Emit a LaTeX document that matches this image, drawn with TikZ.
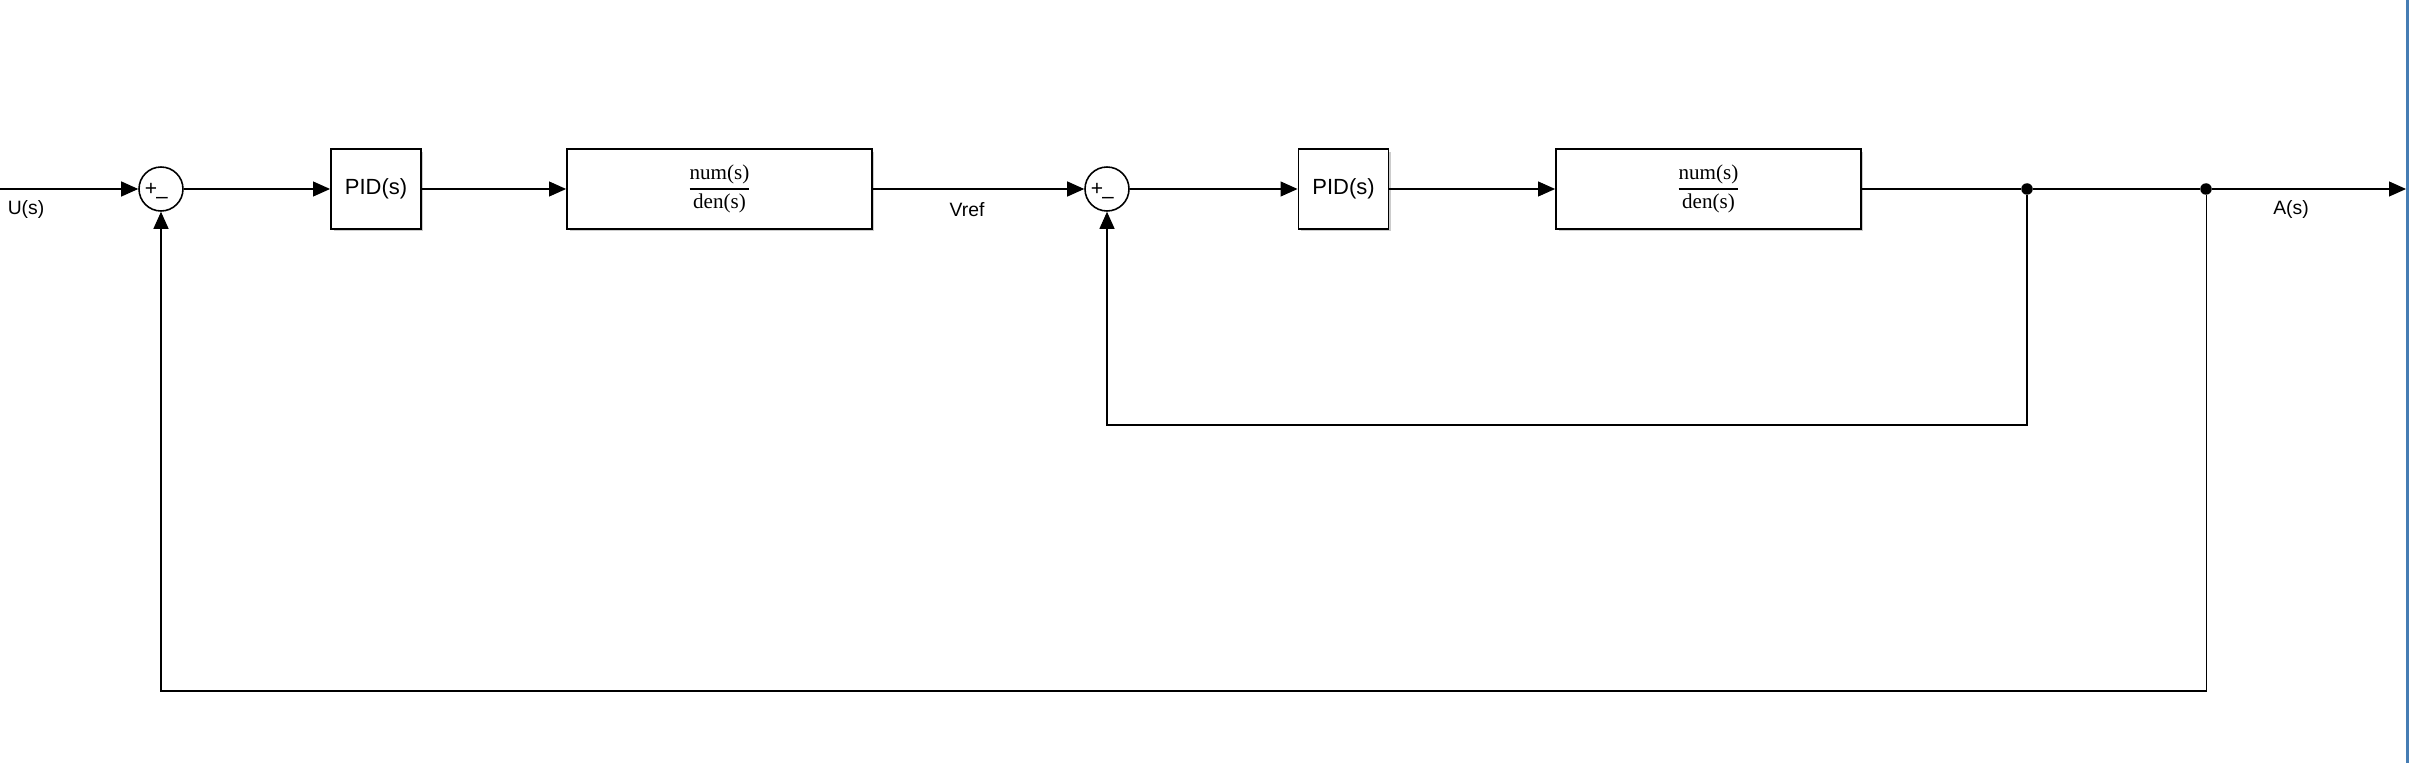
\documentclass[tikz,border=0pt]{standalone}
\usepackage{amsmath}
\usepackage{fontspec}
\setmainfont{Liberation Sans}
\newfontfamily\tffont{Liberation Serif}
\usetikzlibrary{arrows.meta,shadows}
\definecolor{edgeblue}{RGB}{70,125,180}

\tikzset{
    sig/.style={line width=0.6pt, -{Triangle[length=0.34cm,width=0.3cm]}},
    wire/.style={line width=0.6pt},
    block/.style={draw, line width=1.1pt, fill=white, minimum height=1.6cm,
        drop shadow={shadow xshift=0.05cm, shadow yshift=-0.05cm, opacity=0.4}},
    sumnode/.style={circle, draw, line width=0.9pt, fill=white, minimum size=0.88cm, inner sep=0pt},
    junction/.style={circle, fill, inner sep=0pt, minimum size=0.23cm},
    pm/.style={inner sep=0pt, font=\fontsize{12}{14}\selectfont},
    lbl/.style={font=\fontsize{11}{13}\selectfont}
}
\newcommand{\tf}{{\tffont\fontsize{12}{14}\selectfont$\genfrac{}{}{0.8pt}{0}{\mbox{num(s)}}{\mbox{den(s)}}$}}

\begin{document}
\begin{tikzpicture}[x=0.02cm, y=-0.02cm]
    \useasboundingbox (0,0) rectangle (2410,763);
    % Blocks
    \node[sumnode] (sum1) at (161,189) {};
    \node[pm] (sum1p) at ([xshift=-0.2cm]sum1.center) {+};
    \node[pm] (sum1m) at ([xshift=0.02cm,yshift=-0.22cm]sum1.center) {--};
    \node[block, minimum width=1.8cm, font=\fontsize{12.5}{14}\selectfont] (pid1) at (376,189) {PID(s)};
    \node[block, minimum width=6.1cm] (plant1) at (719.5,189) {\tf};
    \node[sumnode] (sum2) at (1107,189) {};
    \node[pm] (sum2p) at ([xshift=-0.2cm]sum2.center) {+};
    \node[pm] (sum2m) at ([xshift=0.02cm,yshift=-0.22cm]sum2.center) {--};
    \node[block, minimum width=1.8cm, font=\fontsize{12.5}{14}\selectfont] (pid2) at (1343.5,189) {PID(s)};
    \node[block, minimum width=6.1cm] (plant2) at (1708.5,189) {\tf};
    \node[junction] (tap1) at (2027,189) {};
    \node[junction] (tap2) at (2206,189) {};

    % Signal names
    \node[lbl] (ulab) at (26,210) {U(s)};
    \node[lbl] (vlab) at (967,210) {Vref};
    \node[lbl] (alab) at (2291,210) {A(s)};

    % Ends and loop levels
    \coordinate (in) at (0,189);
    \coordinate (out) at (2406,189);
    \coordinate (inner) at (0,425);
    \coordinate (outer) at (0,691);

    % Forward path
    \draw[sig] (in) -- (sum1);
    \draw[sig] (sum1) -- (pid1);
    \draw[sig] (pid1) -- (plant1);
    \draw[sig] (plant1) -- (sum2);
    \draw[sig] (sum2) -- (pid2);
    \draw[sig] (pid2) -- (plant2);
    \draw[wire] (plant2) -- (tap1) -- (tap2);
    \draw[sig] (tap2) -- (out);

    % Feedback loops
    \draw[sig] (tap1) |- (sum2 |- inner) -- (sum2);
    \draw[sig] (tap2) |- (sum1 |- outer) -- (sum1);

    % Canvas edge
    \draw[line width=0.06cm, edgeblue] (2407.5,0) -- (2407.5,763);
\end{tikzpicture}
\end{document}
